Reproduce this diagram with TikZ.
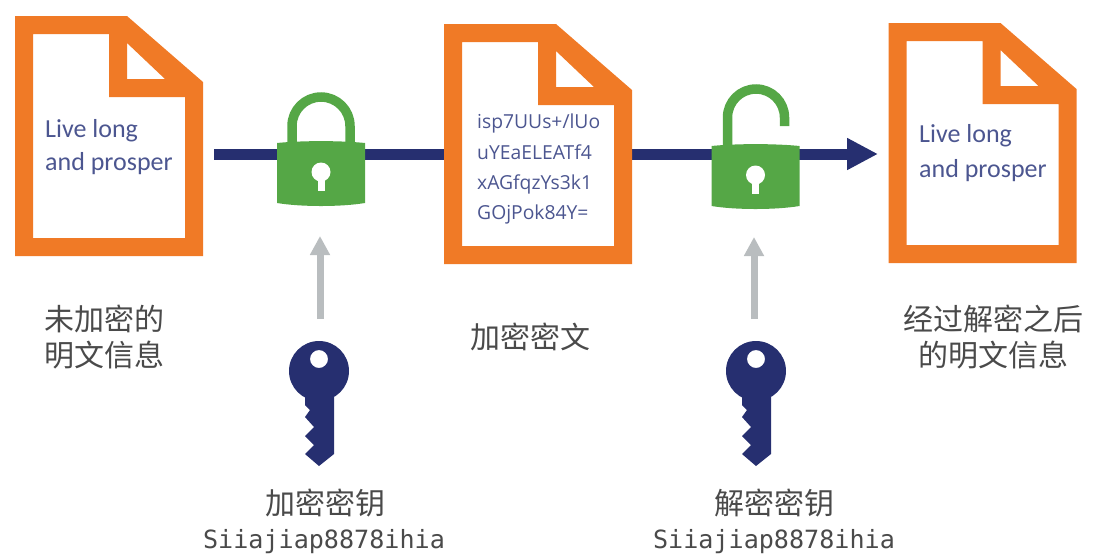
\documentclass[tikz,border=0pt]{standalone}
\usepackage{fontspec}
\setmainfont{Carlito}
\newfontfamily\cjkfont{Noto Sans CJK SC}
\newfontfamily\cipherfont{Open Sans}
\newfontfamily\keyfont{DejaVu Sans Mono}
\usetikzlibrary{arrows.meta}
\definecolor{docorange}{HTML}{F07A26}
\definecolor{linenavy}{HTML}{262F70}
\definecolor{lockgreen}{HTML}{55A746}
\definecolor{arrowgrey}{HTML}{B9BDBF}
\definecolor{docblue}{HTML}{4C5690}
\definecolor{captiongrey}{HTML}{4A4A4A}
\tikzset{
    doctext/.style={anchor=base west,inner sep=0pt,text=docblue,font=\fontsize{26}{26}\selectfont},
    ciphertext/.style={anchor=base west,inner sep=0pt,text=docblue,font=\cipherfont\fontsize{19.3}{19.3}\selectfont},
    caption/.style={inner sep=0pt,align=center,text=captiongrey,font=\cjkfont\fontsize{30}{36}\selectfont},
    keytext/.style={inner sep=0pt,text=captiongrey,font=\keyfont\fontsize{25.1}{25.1}\selectfont},
    mainline/.style={draw=linenavy,line width=11pt},
    keyarrow/.style={draw=arrowgrey,line width=7pt,-{Triangle[length=19pt,width=19pt,fill=arrowgrey]}},
    pics/docicon/.style={code={
        \fill[docorange,even odd rule] (0,0) -- (112,0) -- (188,66) -- (188,240) -- (0,240) -- cycle
            (18,18) -- (94,18) -- (94,81) -- (170,81) -- (170,222) -- (18,222) -- cycle
            (112,27) -- (112,63) -- (150,63) -- cycle;
    }},
    pics/lockbody/.style={code={
        \fill[lockgreen] (-44,0) .. controls (-20,-2.5) and (20,-2.5) .. (44,0) -- (44,60)
            .. controls (20,64) and (-20,64) .. (-44,60) -- cycle;
        \fill[white] (0,29) circle (9.5);
        \fill[white] (-3.5,33) rectangle (3.5,48);
    }},
    pics/keyicon/.style={code={
        \fill[linenavy,even odd rule] (0,0) circle (30) (0,-12) circle (9);
        \fill[linenavy] (-14,26) -- (-14,34) -- (-9,39) -- (-14,46) -- (-5,56) -- (-14,65) -- (-5,74)
            -- (-14,83) -- (0,95) -- (15,83) -- (15,26) -- cycle;
    }}
}
\begin{document}
\begin{tikzpicture}[x=1pt,y=-1pt]
    \useasboundingbox (0,0) rectangle (1093,558);

    % Main line
    \coordinate (lineA) at (214,154);
    \coordinate (lineB) at (444,154);
    \coordinate (lineC) at (632,154);
    \coordinate (lineD) at (878,154);
    \draw[mainline] (lineA) -- (lineB);
    \draw[mainline,-{Triangle[length=31pt,width=30pt,fill=linenavy]}] (lineC) -- (lineD);

    % Documents
    \pic at (15,16) {docicon};
    \pic at (444,24) {docicon};
    \pic at (888.5,23) {docicon};

    % Document texts
    \node[doctext] (plainA) at (45,137) {Live long};
    \node[doctext] (plainB) at (45,170) {and prosper};
    \node[doctext] (plainC) at (919,142) {Live long};
    \node[doctext] (plainD) at (919,177) {and prosper};
    \node[ciphertext] (cipherA) at (477,128) {isp7UUs+/lUo};
    \node[ciphertext] (cipherB) at (477,159) {uYEaELEATf4};
    \node[ciphertext] (cipherC) at (477,189) {xAGfqzYs3k1};
    \node[ciphertext] (cipherD) at (477,219) {GOjPok84Y=};

    % Locks
    \draw[draw=lockgreen,line width=9.5pt] (292,146) -- (292,126) arc[start angle=180,end angle=360,radius=29] -- (350,146);
    \pic at (321,143) {lockbody};
    \draw[draw=lockgreen,line width=9.5pt] (727.5,149) -- (727.5,117.5) arc[start angle=180,end angle=360,radius=28.5] -- (784.5,126);
    \pic at (755.5,146) {lockbody};

    % Key arrows
    \coordinate (keyA) at (320,319);
    \coordinate (lockA) at (320,236);
    \coordinate (keyB) at (754,319);
    \coordinate (lockB) at (754,237);
    \draw[keyarrow] (keyA) -- (lockA);
    \draw[keyarrow] (keyB) -- (lockB);

    % Keys
    \pic at (319,371) {keyicon};
    \pic at (756,371) {keyicon};

    % Captions
    \node[caption] (plainCap) at (105,337) {未加密的\\明文信息};
    \node[caption] (cipherCap) at (530,337) {加密密文};
    \node[caption] (resultCap) at (993,337) {经过解密之后\\的明文信息};
    \node[caption] (encCap) at (325,503) {加密密钥};
    \node[caption] (decCap) at (774,503) {解密密钥};
    \node[keytext] (encKey) at (324,542) {Siiajiap8878ihia};
    \node[keytext] (decKey) at (774,542) {Siiajiap8878ihia};
\end{tikzpicture}
\end{document}
